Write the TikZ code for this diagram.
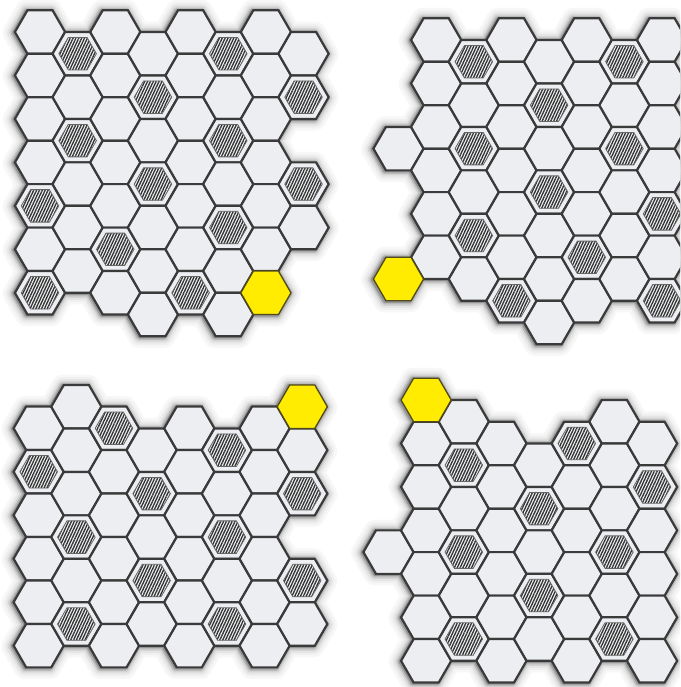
\documentclass[tikz,border=0pt]{standalone}
\usetikzlibrary{shapes.geometric,patterns.meta}
\definecolor{tilefill}{HTML}{ECEEF2}
\definecolor{tileline}{HTML}{3A3A3A}
\definecolor{hatchfill}{HTML}{F4F5F7}
\definecolor{hatchline}{HTML}{333333}
\definecolor{hatchrim}{HTML}{666666}
\definecolor{yel}{HTML}{FFEC00}
\definecolor{yelline}{HTML}{4F4A1E}
\tikzset{
  hexbase/.style={regular polygon, regular polygon sides=6, inner sep=0pt, outer sep=0pt, minimum size=50.2pt},
  tileP/.style={hexbase, fill=tilefill, draw=tileline, line width=2.2pt},
  tileH/.style={tileP},
  tileY/.style={hexbase, fill=yel, draw=yelline, line width=1.3pt},
  hatchin/.style={regular polygon, regular polygon sides=6, inner sep=0pt, outer sep=0pt, minimum size=37.5pt,
    draw=hatchrim, line width=0.8pt, preaction={fill=hatchfill},
    pattern={Lines[angle=65,distance=2.6pt,line width=1.35pt]}, pattern color=hatchline},
  shadowhex/.style={line join=round, fill=black!\g, draw=black!\g, line width=\w pt},
}
% tile lists: column/row/type (P plain, H hatched, Y yellow)
\def\QA{0/0/P,0/1/P,0/2/P,0/3/P,0/4/H,0/5/P,0/6/H,1/0/H,1/1/P,1/2/H,1/3/P,1/4/P,1/5/P,2/0/P,2/1/P,2/2/P,2/3/P,2/4/P,2/5/H,2/6/P,3/0/P,3/1/H,3/2/P,3/3/H,3/4/P,3/5/P,3/6/P,4/0/P,4/1/P,4/2/P,4/3/P,4/4/P,4/5/P,4/6/H,5/0/H,5/1/P,5/2/H,5/3/P,5/4/H,5/5/P,5/6/P,6/0/P,6/1/P,6/2/P,6/3/P,6/4/P,6/5/P,7/0/P,7/1/H,7/3/H,7/4/P,6/6/Y}
\def\QB{0/2/P,1/0/P,1/1/P,1/2/P,1/3/P,1/4/P,1/5/P,2/0/H,2/1/P,2/2/H,2/3/P,2/4/H,2/5/P,3/0/P,3/1/P,3/2/P,3/3/P,3/4/P,3/5/P,3/6/H,4/0/P,4/1/H,4/2/P,4/3/H,4/4/P,4/5/P,4/6/P,5/0/P,5/1/P,5/2/P,5/3/P,5/4/P,5/5/H,5/6/P,6/0/H,6/1/P,6/2/H,6/3/P,6/4/P,6/5/P,7/0/P,7/1/P,7/2/P,7/3/P,7/4/H,7/5/P,7/6/H,0/5/Y}
\def\QC{0/0/P,0/1/H,0/2/P,0/3/P,0/4/P,0/5/P,1/0/P,1/1/P,1/2/P,1/3/H,1/4/P,1/5/H,2/0/H,2/1/P,2/2/P,2/3/P,2/4/P,2/5/P,3/1/P,3/2/H,3/3/P,3/4/H,3/5/P,4/0/P,4/1/P,4/2/P,4/3/P,4/4/P,4/5/P,5/1/H,5/2/P,5/3/H,5/4/P,5/5/H,6/0/P,6/1/P,6/2/P,6/3/P,6/4/P,6/5/P,7/1/P,7/2/H,7/4/H,7/5/P,7/0/Y}
\def\QD{0/3/P,1/1/P,1/2/P,1/3/P,1/4/P,1/5/P,1/6/P,2/0/P,2/1/H,2/2/P,2/3/H,2/4/P,2/5/H,3/1/P,3/2/P,3/3/P,3/4/P,3/5/P,3/6/P,4/1/P,4/2/H,4/3/P,4/4/H,4/5/P,5/1/H,5/2/P,5/3/P,5/4/P,5/5/P,5/6/P,6/0/P,6/1/P,6/2/P,6/3/H,6/4/P,6/5/H,7/1/P,7/2/H,7/3/P,7/4/P,7/5/P,7/6/P,1/0/Y}
% #1 x0, #2 y0 of even columns, #3 y0 of odd columns, #4 list
\newcommand\quadshadow[4]{%
  \foreach \cc/\rr/\ty in #4 {%
    \pgfmathsetmacro\hx{#1+37.65*\cc-1.2}%
    \pgfmathsetmacro\hy{#2+mod(\cc,2)*(#3-#2)+43.47*\rr+0.6}%
    \path[shadowhex] (\hx+25.1,\hy) -- (\hx+12.55,\hy+21.74) -- (\hx-12.55,\hy+21.74) -- (\hx-25.1,\hy) -- (\hx-12.55,\hy-21.74) -- (\hx+12.55,\hy-21.74) -- cycle;%
  }}
% #1 prefix, #2 x0, #3 y0 even cols, #4 y0 odd cols, #5 list
\newcommand\quadtiles[5]{%
  \foreach \cc/\rr/\ty in #5 {%
    \pgfmathsetmacro\hx{#2+37.65*\cc}%
    \pgfmathsetmacro\hy{#3+mod(\cc,2)*(#4-#3)+43.47*\rr}%
    \edef\tstyle{tile\ty}%
    \node[\tstyle] (#1-\cc-\rr) at (\hx,\hy) {};%
    \if\ty H\node[hatchin] (#1-\cc-\rr-in) at (\hx,\hy) {};\fi
  }}
\begin{document}
\begin{tikzpicture}[x=1pt,y=-1pt]
  \useasboundingbox (0,0) rectangle (680,687);
  \clip (0,0) rectangle (680,687);
  \fill[white] (0,0) rectangle (680,687);
  \foreach \w/\g in {22/3,17/6,13/10,9/17,6/27,3/42}{%
    \quadshadow{40}{32}{53.7}{\QA}
    \quadshadow{398.5}{61.7}{40}{\QB}
    \quadshadow{38.7}{428.3}{406.7}{\QC}
    \quadshadow{388.5}{421.7}{400}{\QD}
  }
  \quadtiles{a}{40}{32}{53.7}{\QA}
  \quadtiles{b}{398.5}{61.7}{40}{\QB}
  \quadtiles{c}{38.7}{428.3}{406.7}{\QC}
  \quadtiles{d}{388.5}{421.7}{400}{\QD}
\end{tikzpicture}
\end{document}
